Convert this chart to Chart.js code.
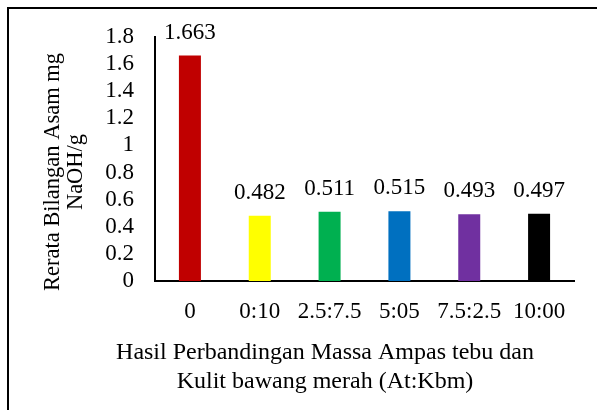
<!DOCTYPE html>
<html>
<head>
<meta charset="utf-8">
<script src="https://cdn.jsdelivr.net/npm/chart.js@4/dist/chart.umd.min.js"></script>
<style>
html,body{margin:0;padding:0;background:#fff;}
#wrap{position:relative;width:597px;height:410px;}
</style>
</head>
<body>
<div id="wrap"><canvas id="c" width="597" height="410"></canvas></div>
<script>
const categories = ["0", "0:10", "2.5:7.5", "5:05", "7.5:2.5", "10:00"];
const values = [1.663, 0.482, 0.511, 0.515, 0.493, 0.497];
const valueLabels = ["1.663", "0.482", "0.511", "0.515", "0.493", "0.497"];
const barColors = ["#C00000", "#FFFF00", "#00B050", "#0070C0", "#7030A0", "#000000"];
const yTitleLines = ["Rerata Bilangan Asam mg", "NaOH/g"];
const xTitleLines = ["Hasil Perbandingan Massa Ampas tebu dan", "Kulit bawang merah (At:Kbm)"];

const FONT = "'Liberation Serif', 'Times New Roman', serif";

const decor = {
  id: 'decor',
  beforeDraw(chart) {
    const ctx = chart.ctx;
    ctx.save();
    ctx.fillStyle = '#fff';
    ctx.fillRect(0, 0, chart.width, chart.height);
    ctx.fillStyle = '#000';
    ctx.fillRect(7, 7, 2, chart.height);
    ctx.fillRect(7, 7, chart.width, 2);
    ctx.restore();
  },
  afterDraw(chart) {
    const ctx = chart.ctx;
    const meta = chart.getDatasetMeta(0);
    ctx.save();
    ctx.fillStyle = '#000';
    ctx.font = '23px ' + FONT;
    ctx.textAlign = 'center';
    ctx.textBaseline = 'alphabetic';
    meta.data.forEach((bar, i) => {
      ctx.fillText(valueLabels[i], bar.x, bar.y - 17);
    });
    // y title
    ctx.save();
    ctx.translate(0, 172);
    ctx.rotate(-Math.PI / 2);
    ctx.font = '22.5px ' + FONT;
    ctx.fillText(yTitleLines[0], 0, 59);
    ctx.fillText(yTitleLines[1], 0, 82);
    ctx.restore();
    // x title
    ctx.font = '24px ' + FONT;
    ctx.textBaseline = 'middle';
    ctx.fillText(xTitleLines[0], 325, 353);
    ctx.fillText(xTitleLines[1], 325, 382);
    ctx.restore();
  }
};

new Chart(document.getElementById('c'), {
  type: 'bar',
  data: {
    labels: categories,
    datasets: [{
      data: values,
      backgroundColor: barColors,
      borderWidth: 0,
      categoryPercentage: 1,
      barPercentage: 0.315
    }]
  },
  options: {
    responsive: false,
    animation: false,
    devicePixelRatio: 1,
    layout: { padding: { top: 37, right: 23, left: 0, bottom: 0 } },
    plugins: { legend: { display: false }, tooltip: { enabled: false } },
    scales: {
      x: {
        grid: { display: false, drawTicks: false },
        border: { display: true, color: '#000', width: 2 },
        ticks: { color: '#000', font: { family: FONT, size: 23 }, padding: 17, maxRotation: 0, autoSkip: false },
        afterFit(scale) { scale.height = 129; }
      },
      y: {
        min: 0, max: 1.8,
        grid: { display: false, drawTicks: false },
        border: { display: true, color: '#000', width: 2 },
        ticks: { stepSize: 0.2, autoSkip: false, color: '#000', font: { family: FONT, size: 23 }, padding: 21,
          callback: (v) => String(Math.round(v * 10) / 10) },
        afterFit(scale) { scale.width = 155; }
      }
    }
  },
  plugins: [decor]
});
</script>
</body>
</html>
